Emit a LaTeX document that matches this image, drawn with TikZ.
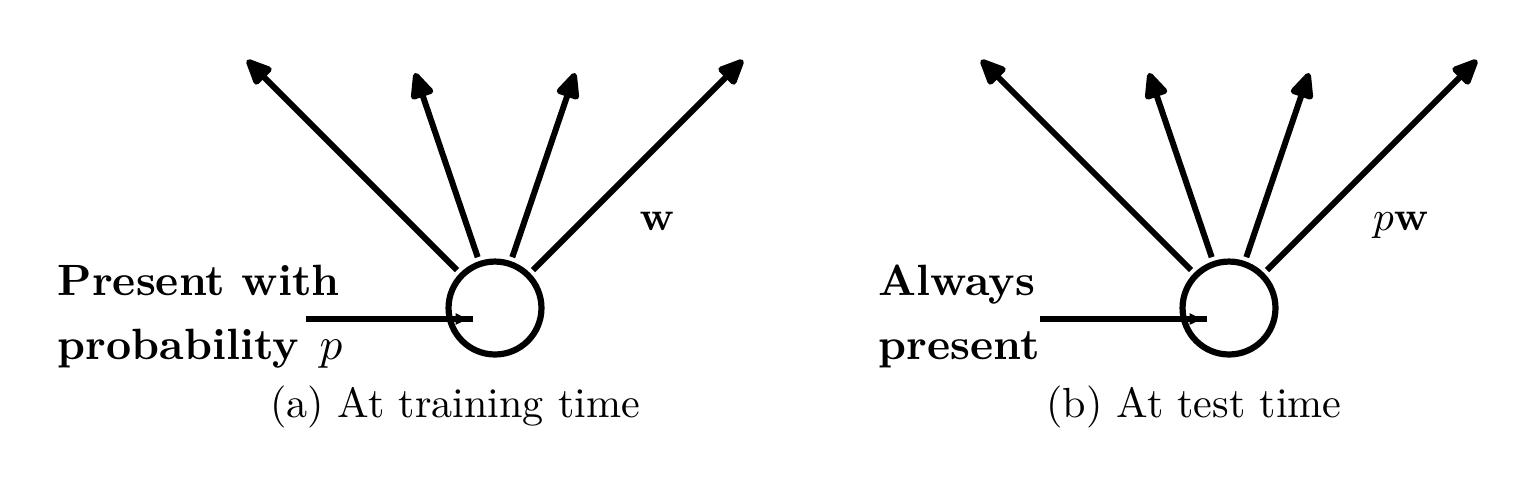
\documentclass[tikz,border=0pt]{standalone}
\usetikzlibrary{arrows.meta}
\begin{document}
\begin{tikzpicture}[x=0.2421pt,y=-0.2421pt,
  neuron/.style={circle,draw,line width=1.5pt,minimum size=22.5pt,inner sep=0pt},
  outarrow/.style={line width=1.45pt,-{Triangle[length=7.2pt,width=6pt,round]},shorten <=1pt},
  wire/.style={line width=1.25pt},
  intip/.style={line width=1.25pt,-{Triangle[length=3pt,width=2.6pt]}},
  lab/.style={inner sep=0pt,anchor=base west,font=\fontsize{10.6}{13}\selectfont\bfseries},
  captext/.style={inner sep=0pt,anchor=base,font=\fontsize{10.2}{12}\selectfont}]
\useasboundingbox (0,0) rectangle (1539,491);

% ---------- (a) training ----------
\node[neuron] (c1) at (495,308) {};
\coordinate (a1) at (247,60);
\coordinate (a2) at (415,73);
\coordinate (a3) at (575,73);
\coordinate (a4) at (743,60);
\foreach \t in {a1,a2,a3,a4} \draw[outarrow] (c1) -- (\t);
\coordinate (ina) at (306,319);
\coordinate (enda) at (473,319);
\coordinate (tba) at (450,319);
\coordinate (tipa) at (468,319);
\draw[wire] (ina) -- (enda);
\draw[intip] (tba) -- (tipa);
\node[lab] (la1) at (57,295) {Present with};
\node[lab] (la2) at (57,359) {probability\hspace{1pt} $p$};
\node[inner sep=0pt,anchor=base] (wa) at (657,230) {$\mathbf{w}$};
\node[captext] (capa) at (455,417) {(a) At training time};

% ---------- (b) test ----------
\node[neuron] (c2) at (1229,308) {};
\coordinate (b1) at (981,60);
\coordinate (b2) at (1149,73);
\coordinate (b3) at (1309,73);
\coordinate (b4) at (1477,60);
\foreach \t in {b1,b2,b3,b4} \draw[outarrow] (c2) -- (\t);
\coordinate (inb) at (1040,319);
\coordinate (endb) at (1207,319);
\coordinate (tbb) at (1184,319);
\coordinate (tipb) at (1202,319);
\draw[wire] (inb) -- (endb);
\draw[intip] (tbb) -- (tipb);
\node[lab] (lb1) at (878,295) {Always};
\node[lab] (lb2) at (878,359) {present};
\node[inner sep=0pt,anchor=base] (wb) at (1401,230) {$p\mathbf{w}$};
\node[captext] (capb) at (1194,417) {(b) At test time};
\end{tikzpicture}
\end{document}
